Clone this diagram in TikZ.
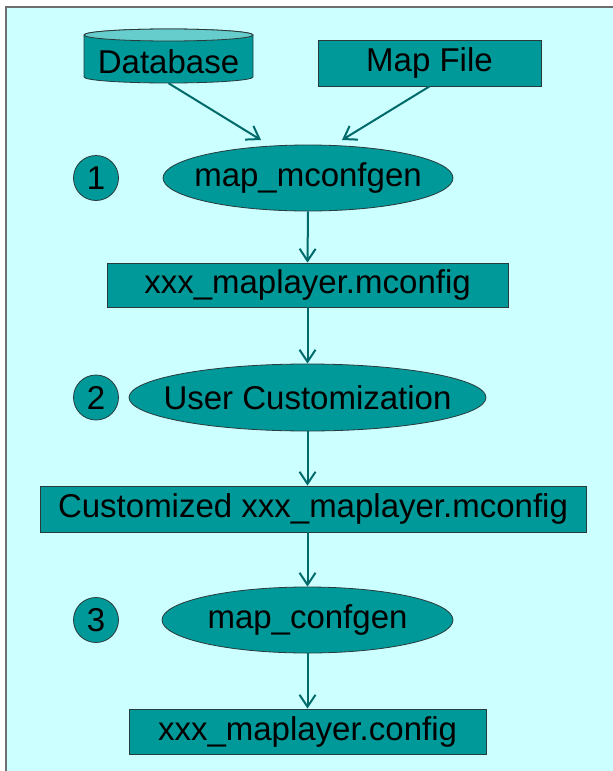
\documentclass[tikz,border=0pt]{standalone}
\usepackage{fontspec}
\setmainfont{Liberation Sans}
\usetikzlibrary{shapes.geometric,arrows.meta}
\definecolor{bgc}{HTML}{CCFFFF}
\definecolor{tealf}{HTML}{009999}
\definecolor{teallight}{HTML}{66CCCC}
\definecolor{arrc}{HTML}{006A6A}
\definecolor{framec}{HTML}{6E6E6E}
\definecolor{edgec}{HTML}{2A3A3A}
\begin{document}
\begin{tikzpicture}[x=1pt,y=-1pt,
  font=\fontsize{33}{37}\selectfont,
  box/.style={draw=edgec, fill=tealf, line width=0.8pt, inner sep=0pt},
  rectbox/.style={box, rectangle},
  ellbox/.style={box, ellipse},
  numc/.style={box, circle, minimum size=45pt},
  arr/.style={draw=arrc, line width=2pt, -{Straight Barb[length=12pt,width=16pt,line width=2pt]}}]
\useasboundingbox (0,0) rectangle (613,771);
\fill[white] (0,0) rectangle (613,771);
\fill[bgc] (6,7) rectangle (613,771);
\draw[framec, line width=2pt] (6,771) -- (6,7) -- (613,7);
% database cylinder
\path[box] (84,35) -- (84,77) arc[start angle=180,end angle=360,x radius=84.5pt,y radius=6pt]
  -- (253,35) arc[start angle=0,end angle=180,x radius=84.5pt,y radius=6pt] -- cycle;
\draw[draw=edgec, fill=teallight, line width=0.8pt] (168.5,35) ellipse[x radius=84.5pt, y radius=6pt];
\node[inner sep=0pt, minimum width=169pt, minimum height=42pt] (db) at (168.5,62) {Database};
\node[rectbox, minimum width=223pt, minimum height=46pt] (mapfile) at (429.5,63) {Map File};
% step 1
\node[numc] (n1) at (96,178) {1};
\node[ellbox, minimum width=290pt, minimum height=66pt, label=center:{map\_mconfgen}] (e1) at (308,178) {};
\coordinate (t1) at (261,140);
\coordinate (t2) at (342,140);
\node[rectbox, minimum width=401pt, minimum height=44pt] (r1) at (307.5,285) {xxx\_maplayer.mconfig};
% step 2
\node[numc] (n2) at (96,397.5) {2};
\node[ellbox, minimum width=357pt, minimum height=67pt, label=center:{User Customization}] (e2) at (307.5,397.5) {};
\node[rectbox, minimum width=546pt, minimum height=46pt] (r2) at (313,509) {Customized xxx\_maplayer.mconfig};
% step 3
\node[numc] (n3) at (96,620) {3};
\node[ellbox, minimum width=291pt, minimum height=66pt, label=center:{map\_confgen}] (e3) at (307.5,620) {};
\node[rectbox, minimum width=357pt, minimum height=45pt] (r3) at (307.5,731.5) {xxx\_maplayer.config};
% connectors
\draw[arr] (db.south) -- (t1);
\draw[arr] (mapfile.south) -- (t2);
\draw[arr] (e1.south) -- (r1.north);
\draw[arr] (r1.south) -- (e2.north);
\draw[arr] (e2.south) -- (e2.south |- r2.north);
\draw[arr] (e2.south |- r2.south) -- (e3.north);
\draw[arr] (e3.south) -- (r3.north);
\end{tikzpicture}
\end{document}
